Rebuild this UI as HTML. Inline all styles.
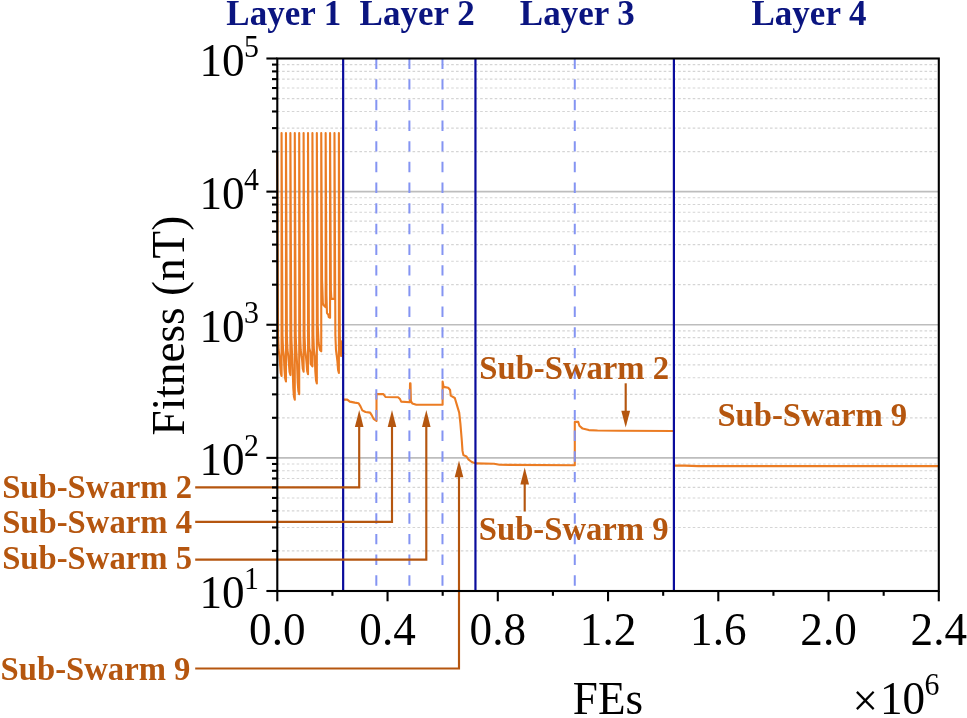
<!DOCTYPE html>
<html lang="en"><head><meta charset="utf-8"><title>Fitness vs FEs</title>
<style>html,body{margin:0;padding:0;background:#fff}svg{display:block}text{font-family:"Liberation Serif", "Times New Roman", Times, serif}</style></head><body>
<svg width="967" height="718" viewBox="0 0 967 718">
<rect width="967" height="718" fill="#fff"/>
<g id="grid" fill="none">
<line x1="277.3" y1="550.93" x2="937.8" y2="550.93" stroke="#d5d5d5" stroke-width="1.15" stroke-dasharray="2.6 2.23"/>
<line x1="277.3" y1="527.48" x2="937.8" y2="527.48" stroke="#d5d5d5" stroke-width="1.15" stroke-dasharray="2.6 2.23"/>
<line x1="277.3" y1="510.85" x2="937.8" y2="510.85" stroke="#d5d5d5" stroke-width="1.15" stroke-dasharray="2.6 2.23"/>
<line x1="277.3" y1="497.95" x2="937.8" y2="497.95" stroke="#d5d5d5" stroke-width="1.15" stroke-dasharray="2.6 2.23"/>
<line x1="277.3" y1="487.41" x2="937.8" y2="487.41" stroke="#d5d5d5" stroke-width="1.15" stroke-dasharray="2.6 2.23"/>
<line x1="277.3" y1="478.5" x2="937.8" y2="478.5" stroke="#d5d5d5" stroke-width="1.15" stroke-dasharray="2.6 2.23"/>
<line x1="277.3" y1="470.78" x2="937.8" y2="470.78" stroke="#d5d5d5" stroke-width="1.15" stroke-dasharray="2.6 2.23"/>
<line x1="277.3" y1="463.97" x2="937.8" y2="463.97" stroke="#d5d5d5" stroke-width="1.15" stroke-dasharray="2.6 2.23"/>
<line x1="277.3" y1="417.8" x2="937.8" y2="417.8" stroke="#d5d5d5" stroke-width="1.15" stroke-dasharray="2.6 2.23"/>
<line x1="277.3" y1="394.36" x2="937.8" y2="394.36" stroke="#d5d5d5" stroke-width="1.15" stroke-dasharray="2.6 2.23"/>
<line x1="277.3" y1="377.73" x2="937.8" y2="377.73" stroke="#d5d5d5" stroke-width="1.15" stroke-dasharray="2.6 2.23"/>
<line x1="277.3" y1="364.82" x2="937.8" y2="364.82" stroke="#d5d5d5" stroke-width="1.15" stroke-dasharray="2.6 2.23"/>
<line x1="277.3" y1="354.28" x2="937.8" y2="354.28" stroke="#d5d5d5" stroke-width="1.15" stroke-dasharray="2.6 2.23"/>
<line x1="277.3" y1="345.37" x2="937.8" y2="345.37" stroke="#d5d5d5" stroke-width="1.15" stroke-dasharray="2.6 2.23"/>
<line x1="277.3" y1="337.65" x2="937.8" y2="337.65" stroke="#d5d5d5" stroke-width="1.15" stroke-dasharray="2.6 2.23"/>
<line x1="277.3" y1="330.84" x2="937.8" y2="330.84" stroke="#d5d5d5" stroke-width="1.15" stroke-dasharray="2.6 2.23"/>
<line x1="277.3" y1="284.68" x2="937.8" y2="284.68" stroke="#d5d5d5" stroke-width="1.15" stroke-dasharray="2.6 2.23"/>
<line x1="277.3" y1="261.23" x2="937.8" y2="261.23" stroke="#d5d5d5" stroke-width="1.15" stroke-dasharray="2.6 2.23"/>
<line x1="277.3" y1="244.6" x2="937.8" y2="244.6" stroke="#d5d5d5" stroke-width="1.15" stroke-dasharray="2.6 2.23"/>
<line x1="277.3" y1="231.7" x2="937.8" y2="231.7" stroke="#d5d5d5" stroke-width="1.15" stroke-dasharray="2.6 2.23"/>
<line x1="277.3" y1="221.16" x2="937.8" y2="221.16" stroke="#d5d5d5" stroke-width="1.15" stroke-dasharray="2.6 2.23"/>
<line x1="277.3" y1="212.25" x2="937.8" y2="212.25" stroke="#d5d5d5" stroke-width="1.15" stroke-dasharray="2.6 2.23"/>
<line x1="277.3" y1="204.53" x2="937.8" y2="204.53" stroke="#d5d5d5" stroke-width="1.15" stroke-dasharray="2.6 2.23"/>
<line x1="277.3" y1="197.72" x2="937.8" y2="197.72" stroke="#d5d5d5" stroke-width="1.15" stroke-dasharray="2.6 2.23"/>
<line x1="277.3" y1="151.55" x2="937.8" y2="151.55" stroke="#d5d5d5" stroke-width="1.15" stroke-dasharray="2.6 2.23"/>
<line x1="277.3" y1="128.11" x2="937.8" y2="128.11" stroke="#d5d5d5" stroke-width="1.15" stroke-dasharray="2.6 2.23"/>
<line x1="277.3" y1="111.48" x2="937.8" y2="111.48" stroke="#d5d5d5" stroke-width="1.15" stroke-dasharray="2.6 2.23"/>
<line x1="277.3" y1="98.57" x2="937.8" y2="98.57" stroke="#d5d5d5" stroke-width="1.15" stroke-dasharray="2.6 2.23"/>
<line x1="277.3" y1="88.03" x2="937.8" y2="88.03" stroke="#d5d5d5" stroke-width="1.15" stroke-dasharray="2.6 2.23"/>
<line x1="277.3" y1="79.12" x2="937.8" y2="79.12" stroke="#d5d5d5" stroke-width="1.15" stroke-dasharray="2.6 2.23"/>
<line x1="277.3" y1="71.4" x2="937.8" y2="71.4" stroke="#d5d5d5" stroke-width="1.15" stroke-dasharray="2.6 2.23"/>
<line x1="277.3" y1="64.59" x2="937.8" y2="64.59" stroke="#d5d5d5" stroke-width="1.15" stroke-dasharray="2.6 2.23"/>
<line x1="277.3" y1="457.88" x2="938.8" y2="457.88" stroke="#bdbdbd" stroke-width="1.7"/>
<line x1="277.3" y1="324.75" x2="938.8" y2="324.75" stroke="#bdbdbd" stroke-width="1.7"/>
<line x1="277.3" y1="191.62" x2="938.8" y2="191.62" stroke="#bdbdbd" stroke-width="1.7"/>
</g>
<path id="curve" d="M277.25 152 L278.05 335 L278.65 350 L279.45 356 L280.05 363.9 L280.75 372.9 L281.56 375.9 L281.56 133 L282.46 335 L283.06 350 L283.86 356 L284.46 369.4 L285.16 378.4 L285.97 381.4 L285.97 133 L286.87 335 L287.47 350 L288.27 356 L288.87 363.1 L289.57 372.1 L290.38 375.1 L290.38 133 L291.28 335 L291.88 350 L292.68 369.8 L293.28 387.8 L293.98 396.8 L294.79 399.8 L294.79 133 L295.69 335 L296.29 350 L297.09 364.3 L297.69 382.3 L298.39 391.3 L299.2 394.3 L299.2 133 L300.1 335 L300.7 350 L301.5 356 L302.1 359.8 L302.8 368.8 L303.61 371.8 L303.61 133 L304.51 335 L305.11 350 L305.91 356 L306.51 362.3 L307.21 371.3 L308.02 374.3 L308.02 133 L308.92 335 L309.32 348 L310.32 352 L310.72 364 L312.43 366.3 L312.43 133 L313.33 335 L313.93 350 L314.73 356 L315.33 371.5 L316.03 380.5 L316.84 383.5 L316.84 133 L317.74 325 L318.64 343 L320.04 350 L321.25 351.3 L321.25 133 L322.05 280 L322.85 303 L323.45 305 L325.66 307.2 L325.66 133 L326.46 295 L326.96 313 L328.26 314.6 L328.76 317 L330.07 317.7 L330.07 133 L330.87 290 L331.37 298.9 L334.48 298.9 L334.48 133 L335.38 335 L335.98 350 L336.78 356 L337.38 361 L338.08 370 L338.89 373 L338.89 133 L339.79 335 L340.39 350 L341.19 356 L341.79 341.4 L342.49 350.4 L343.3 353.4M344 399.6 L347.3 399.6 L349.8 401.6 L354.8 402.6 L358.6 403.2 L360.5 406.4 L362.3 410.4 L365.5 412 L370.1 412.6 L371.7 415.1 L373.6 418.9 L376.5 420.8 L376.5 394.1 L383.4 394.1 L385.5 397 L398.1 397.3 L400 399.1 L401.2 401.6 L409.8 402.3 L410 383.4 L410.5 383.4 L410.9 401 L412.3 403.5 L416.3 404.8 L442.6 404.8 L442.6 381.5 L443.6 386.9 L448.2 387.8 L450.1 390 L450.7 395.7 L454.8 398 L456.5 403.6 L459.2 412.6 L460.4 423.7 L461.8 440.5 L462.5 450.9 L463.4 455.1 L466.5 456.5 L468.3 459.3 L471.8 462 L475.3 463.4 L494 463.7 L499.6 464.8 L574.8 465.2 L574.8 421.9 L578.2 421.9 L579.4 425.7 L582.6 428.6 L588.8 430.1 L597.6 430.5 L618.9 430.8 L673.8 431M674.2 465.6 L685 465.6 L698.5 466.1 L938 466.1" fill="none" stroke="#EB7C23" stroke-width="2.1" stroke-linejoin="round" stroke-linecap="round"/>
<g id="vlines" fill="none">
<line x1="376.32" y1="58.5" x2="376.32" y2="591" stroke="#8494F2" stroke-width="2" stroke-dasharray="10.4 10.27"/>
<line x1="409.4" y1="58.5" x2="409.4" y2="591" stroke="#8494F2" stroke-width="2" stroke-dasharray="10.4 10.27"/>
<line x1="442.48" y1="58.5" x2="442.48" y2="591" stroke="#8494F2" stroke-width="2" stroke-dasharray="10.4 10.27"/>
<line x1="574.78" y1="58.5" x2="574.78" y2="591" stroke="#8494F2" stroke-width="2" stroke-dasharray="10.4 10.27"/>
</g>
<g id="vsolid" fill="none">
<line x1="343.15" y1="58.5" x2="343.15" y2="591" stroke="#0A0C9C" stroke-width="2.2"/>
<line x1="475.45" y1="58.5" x2="475.45" y2="591" stroke="#0A0C9C" stroke-width="2.2"/>
<line x1="673.9" y1="58.5" x2="673.9" y2="591" stroke="#0A0C9C" stroke-width="2.2"/>
</g>
<g id="annot">
<path d="M195.2 487.3 L359.2 487.3 L359.2 425.1" stroke="#B5560F" stroke-width="2.15" fill="none" stroke-linejoin="miter"/>
<path d="M359.2 410.1 L354.9 426.9 L363.5 426.9 Z" fill="#B5560F"/>
<path d="M195.2 521.9 L392 521.9 L392 425.1" stroke="#B5560F" stroke-width="2.15" fill="none" stroke-linejoin="miter"/>
<path d="M392 410.1 L387.7 426.9 L396.3 426.9 Z" fill="#B5560F"/>
<path d="M195.2 559.6 L426.3 559.6 L426.3 425.1" stroke="#B5560F" stroke-width="2.15" fill="none" stroke-linejoin="miter"/>
<path d="M426.3 410.1 L422 426.9 L430.6 426.9 Z" fill="#B5560F"/>
<path d="M195.2 668.5 L459 668.5 L459 475.5" stroke="#B5560F" stroke-width="2.15" fill="none" stroke-linejoin="miter"/>
<path d="M459 460.5 L454.7 477.3 L463.3 477.3 Z" fill="#B5560F"/>
<path d="M524.7 511.5 L524.7 482.6" stroke="#B5560F" stroke-width="2.15" fill="none"/><path d="M524.7 467.6 L520.4 484.4 L529 484.4 Z" fill="#B5560F"/>
<path d="M625.7 383.3 L625.7 412.6" stroke="#B5560F" stroke-width="2.15" fill="none"/><path d="M625.7 427.6 L621.3 410.8 L630.1 410.8 Z" fill="#B5560F"/>
</g>
<g id="axes" stroke="#000" fill="none" stroke-width="2.1">
<rect x="277.3" y="58.5" width="661.5" height="532.5"/>
<line x1="266.4" y1="591" x2="277.3" y2="591"/>
<line x1="272" y1="550.93" x2="277.3" y2="550.93"/>
<line x1="272" y1="527.48" x2="277.3" y2="527.48"/>
<line x1="272" y1="510.85" x2="277.3" y2="510.85"/>
<line x1="272" y1="497.95" x2="277.3" y2="497.95"/>
<line x1="272" y1="487.41" x2="277.3" y2="487.41"/>
<line x1="272" y1="478.5" x2="277.3" y2="478.5"/>
<line x1="272" y1="470.78" x2="277.3" y2="470.78"/>
<line x1="272" y1="463.97" x2="277.3" y2="463.97"/>
<line x1="266.4" y1="457.88" x2="277.3" y2="457.88"/>
<line x1="272" y1="417.8" x2="277.3" y2="417.8"/>
<line x1="272" y1="394.36" x2="277.3" y2="394.36"/>
<line x1="272" y1="377.73" x2="277.3" y2="377.73"/>
<line x1="272" y1="364.82" x2="277.3" y2="364.82"/>
<line x1="272" y1="354.28" x2="277.3" y2="354.28"/>
<line x1="272" y1="345.37" x2="277.3" y2="345.37"/>
<line x1="272" y1="337.65" x2="277.3" y2="337.65"/>
<line x1="272" y1="330.84" x2="277.3" y2="330.84"/>
<line x1="266.4" y1="324.75" x2="277.3" y2="324.75"/>
<line x1="272" y1="284.68" x2="277.3" y2="284.68"/>
<line x1="272" y1="261.23" x2="277.3" y2="261.23"/>
<line x1="272" y1="244.6" x2="277.3" y2="244.6"/>
<line x1="272" y1="231.7" x2="277.3" y2="231.7"/>
<line x1="272" y1="221.16" x2="277.3" y2="221.16"/>
<line x1="272" y1="212.25" x2="277.3" y2="212.25"/>
<line x1="272" y1="204.53" x2="277.3" y2="204.53"/>
<line x1="272" y1="197.72" x2="277.3" y2="197.72"/>
<line x1="266.4" y1="191.62" x2="277.3" y2="191.62"/>
<line x1="272" y1="151.55" x2="277.3" y2="151.55"/>
<line x1="272" y1="128.11" x2="277.3" y2="128.11"/>
<line x1="272" y1="111.48" x2="277.3" y2="111.48"/>
<line x1="272" y1="98.57" x2="277.3" y2="98.57"/>
<line x1="272" y1="88.03" x2="277.3" y2="88.03"/>
<line x1="272" y1="79.12" x2="277.3" y2="79.12"/>
<line x1="272" y1="71.4" x2="277.3" y2="71.4"/>
<line x1="272" y1="64.59" x2="277.3" y2="64.59"/>
<line x1="266.4" y1="58.5" x2="277.3" y2="58.5"/>
<line x1="277.3" y1="591" x2="277.3" y2="601.3"/>
<line x1="332.43" y1="591" x2="332.43" y2="595.8"/>
<line x1="387.55" y1="591" x2="387.55" y2="601.3"/>
<line x1="442.68" y1="591" x2="442.68" y2="595.8"/>
<line x1="497.8" y1="591" x2="497.8" y2="601.3"/>
<line x1="552.92" y1="591" x2="552.92" y2="595.8"/>
<line x1="608.05" y1="591" x2="608.05" y2="601.3"/>
<line x1="663.18" y1="591" x2="663.18" y2="595.8"/>
<line x1="718.3" y1="591" x2="718.3" y2="601.3"/>
<line x1="773.43" y1="591" x2="773.43" y2="595.8"/>
<line x1="828.55" y1="591" x2="828.55" y2="601.3"/>
<line x1="883.68" y1="591" x2="883.68" y2="595.8"/>
<line x1="938.8" y1="591" x2="938.8" y2="601.3"/>
</g>
<g id="labels" fill="#000">
<text transform="translate(244.6 608.4) scale(0.976 1)" font-size="46.3" text-anchor="end">10</text>
<text transform="translate(244 589.2) scale(0.976 1)" font-size="30.6" text-anchor="start">1</text>
<text transform="translate(244.6 475.27) scale(0.976 1)" font-size="46.3" text-anchor="end">10</text>
<text transform="translate(244 456.07) scale(0.976 1)" font-size="30.6" text-anchor="start">2</text>
<text transform="translate(244.6 342.15) scale(0.976 1)" font-size="46.3" text-anchor="end">10</text>
<text transform="translate(244 322.95) scale(0.976 1)" font-size="30.6" text-anchor="start">3</text>
<text transform="translate(244.6 209.03) scale(0.976 1)" font-size="46.3" text-anchor="end">10</text>
<text transform="translate(244 189.83) scale(0.976 1)" font-size="30.6" text-anchor="start">4</text>
<text transform="translate(244.6 75.9) scale(0.976 1)" font-size="46.3" text-anchor="end">10</text>
<text transform="translate(244 56.7) scale(0.976 1)" font-size="30.6" text-anchor="start">5</text>
<text transform="translate(277.3 644.5) scale(0.976 1)" font-size="46.3" text-anchor="middle">0.0</text>
<text transform="translate(387.55 644.5) scale(0.976 1)" font-size="46.3" text-anchor="middle">0.4</text>
<text transform="translate(497.8 644.5) scale(0.976 1)" font-size="46.3" text-anchor="middle">0.8</text>
<text transform="translate(608.05 644.5) scale(0.976 1)" font-size="46.3" text-anchor="middle">1.2</text>
<text transform="translate(718.3 644.5) scale(0.976 1)" font-size="46.3" text-anchor="middle">1.6</text>
<text transform="translate(828.55 644.5) scale(0.976 1)" font-size="46.3" text-anchor="middle">2.0</text>
<text transform="translate(938.8 644.5) scale(0.976 1)" font-size="46.3" text-anchor="middle">2.4</text>
<text transform="translate(608 714.2) scale(0.976 1)" font-size="46.3" text-anchor="middle">FEs</text>
<text transform="translate(852.4 715.9) scale(0.976 1)" font-size="46.3" text-anchor="start">×</text>
<text transform="translate(879.9 714.2) scale(0.976 1)" font-size="46.3" text-anchor="start">10</text>
<text transform="translate(924.6 695.4) scale(0.976 1)" font-size="30.6" text-anchor="start">6</text>
<text transform="translate(183.5 325.6) rotate(-90) scale(0.976 1)" font-size="46.3" text-anchor="middle">Fitness (nT)</text>
</g>
<g id="layers" fill="#0B1580" font-size="35" font-weight="bold">
<text x="226.3" y="25.3">Layer 1</text>
<text x="359.6" y="25.3">Layer 2</text>
<text x="519.8" y="25.3">Layer 3</text>
<text x="751.5" y="25.3">Layer 4</text>
</g>
<g id="swarms" fill="#B5560F" font-size="32.7" font-weight="bold">
<text x="2.2" y="497.8">Sub-Swarm 2</text>
<text x="2.2" y="533.4">Sub-Swarm 4</text>
<text x="2.2" y="569.4">Sub-Swarm 5</text>
<text x="0.6" y="679.8">Sub-Swarm 9</text>
<text x="479.3" y="378.9">Sub-Swarm 2</text>
<text x="478.8" y="540.3">Sub-Swarm 9</text>
<text x="717.4" y="426">Sub-Swarm 9</text>
</g>
</svg></body></html>
